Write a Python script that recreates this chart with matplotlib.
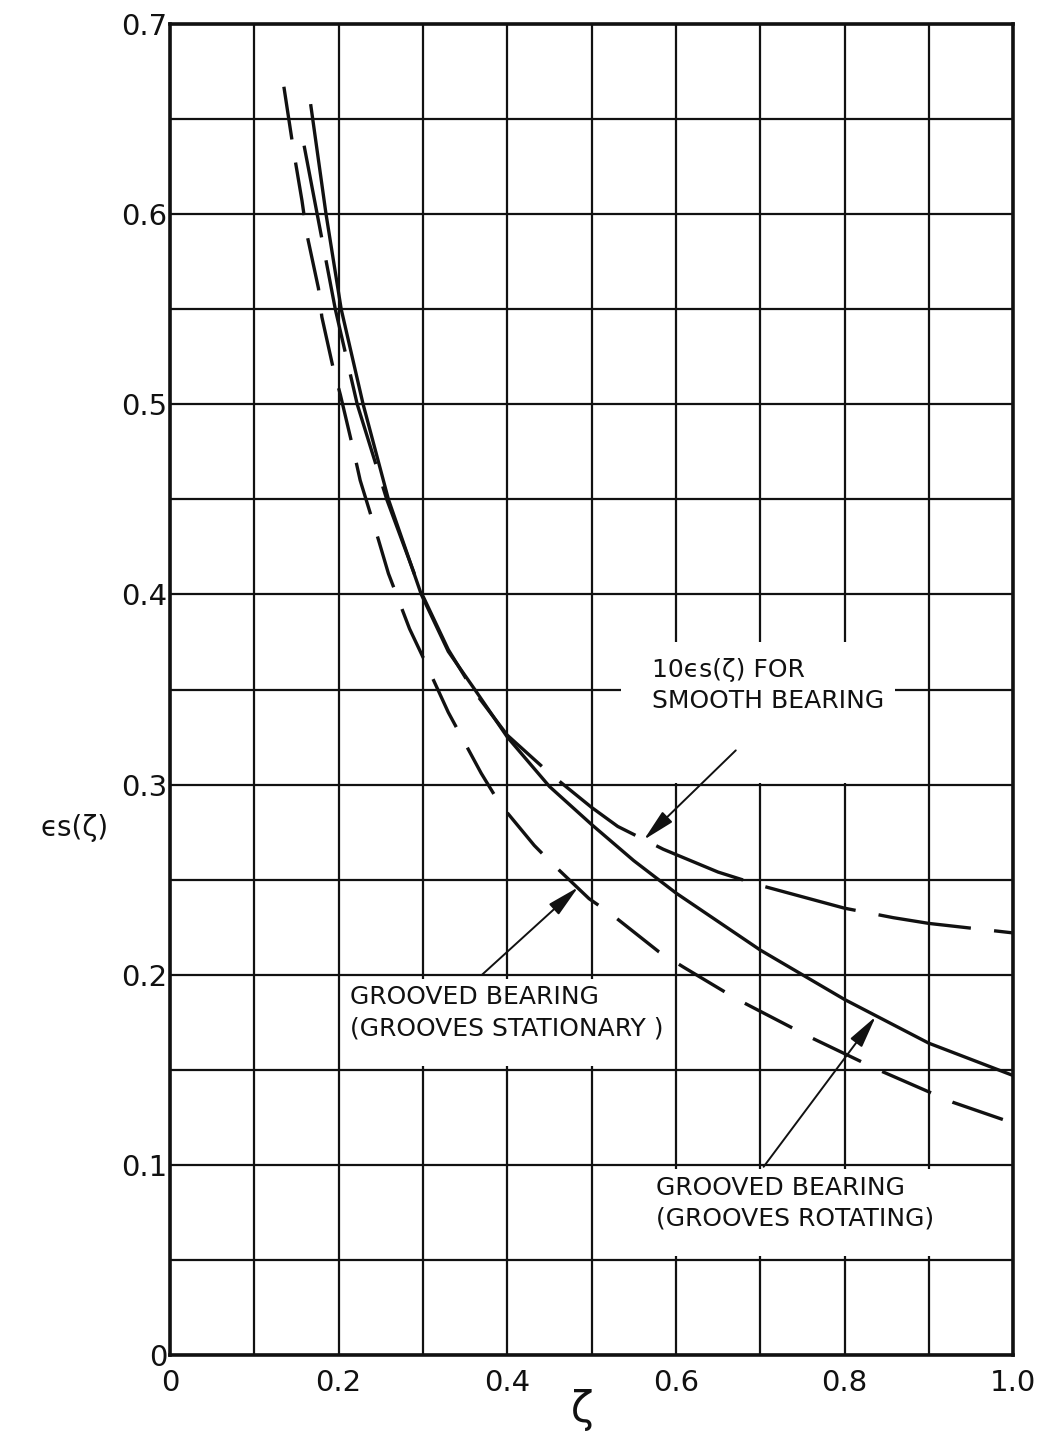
import matplotlib.pyplot as plt
from matplotlib.patches import Rectangle

# values
zeta_rot = [0.167, 0.185, 0.203, 0.229, 0.259, 0.298, 0.33, 0.363, 0.40, 0.45,
            0.50, 0.55, 0.60, 0.65, 0.70, 0.80, 0.90, 1.0]
es_rot = [0.657, 0.60, 0.55, 0.50, 0.45, 0.40, 0.37, 0.349, 0.325, 0.299,
          0.279, 0.26, 0.243, 0.228, 0.213, 0.187, 0.164, 0.147]

zeta_stat = [0.135, 0.147, 0.1565, 0.162, 0.176, 0.180, 0.193, 0.202, 0.218, 0.2255,
             0.247, 0.259, 0.284, 0.30, 0.33, 0.369, 0.391, 0.432, 0.452, 0.497,
             0.523, 0.58, 0.609, 0.673, 0.76, 0.84, 0.928, 1.0]
es_stat = [0.667, 0.632, 0.607, 0.59, 0.561, 0.546, 0.52, 0.505, 0.475, 0.46,
           0.429, 0.411, 0.382, 0.367, 0.338, 0.306, 0.29, 0.268, 0.259, 0.24,
           0.232, 0.212, 0.204, 0.187, 0.167, 0.15, 0.133, 0.122]

zeta_smooth = [0.159, 0.1745, 0.196, 0.222, 0.257, 0.298, 0.33, 0.359, 0.40, 0.45,
               0.50, 0.531, 0.585, 0.65, 0.70, 0.775, 0.80, 0.858, 0.90, 1.0]
es_smooth = [0.636, 0.60, 0.55, 0.50, 0.45, 0.401, 0.371, 0.35, 0.326, 0.306,
             0.288, 0.278, 0.266, 0.254, 0.247, 0.238, 0.235, 0.23, 0.227, 0.222]

x_ticks = [0, 0.2, 0.4, 0.6, 0.8, 1.0]
x_labels = ["0", "0.2", "0.4", "0.6", "0.8", "1.0"]
y_ticks = [0, 0.1, 0.2, 0.3, 0.4, 0.5, 0.6, 0.7]
y_labels = ["0", "0.1", "0.2", "0.3", "0.4", "0.5", "0.6", "0.7"]

INK = "#111111"
plt.rcParams["font.family"] = ["DejaVu Sans"]

fig = plt.figure(figsize=(10.37, 14.46), dpi=100)
ax = fig.add_axes([0.164, 0.0629, 0.813, 0.9205])

ax.set_xlim(0, 1.0)
ax.set_ylim(0, 0.7)
ax.set_xticks(x_ticks)
ax.set_xticklabels(x_labels)
ax.set_yticks(y_ticks)
ax.set_yticklabels(y_labels)
ax.set_xticks([i / 10 for i in range(11)], minor=True)
ax.set_yticks([i / 20 for i in range(15)], minor=True)
ax.tick_params(which="both", length=0, labelsize=21, colors=INK)
ax.tick_params(axis="x", pad=10)
ax.tick_params(axis="y", pad=2)
ax.grid(which="both", color=INK, linewidth=1.6)
ax.set_axisbelow(True)
for sp in ax.spines.values():
    sp.set_linewidth(2.6)
    sp.set_color(INK)
    sp.set_zorder(5)

# white patches behind the labels (grid is blanked there)
for (x0, y0, w, h) in [(0.535, 0.301, 0.325, 0.074),
                       (0.205, 0.152, 0.390, 0.046),
                       (0.505, 0.052, 0.490, 0.046)]:
    ax.add_patch(Rectangle((x0, y0), w, h, facecolor="white", edgecolor="none", zorder=1.5))

ax.plot(zeta_rot, es_rot, color=INK, lw=2.4, zorder=3)
ax.plot(zeta_stat, es_stat, color=INK, lw=2.4, dashes=(16, 7), zorder=3)
ax.plot(zeta_smooth, es_smooth, color=INK, lw=2.4, dashes=(28, 7), zorder=3)

arrow = dict(arrowstyle="-|>,head_length=0.9,head_width=0.2", color=INK, lw=1.4,
             mutation_scale=22, shrinkA=0, shrinkB=0)
lab = dict(fontsize=18, color=INK, ha="left", va="center", zorder=4, linespacing=1.35)

ax.text(0.572, 0.352, "10\u03f5s(\u03b6) FOR\nSMOOTH BEARING", **lab)
ax.annotate("", xy=(0.562, 0.271), xytext=(0.671, 0.318), arrowprops=arrow, zorder=4)

ax.text(0.213, 0.18, "GROOVED BEARING\n(GROOVES STATIONARY )", **lab)
ax.annotate("", xy=(0.484, 0.246), xytext=(0.37, 0.2), arrowprops=arrow, zorder=4)

ax.text(0.576, 0.08, "GROOVED BEARING\n(GROOVES ROTATING)", **lab)
ax.annotate("", xy=(0.837, 0.178), xytext=(0.704, 0.099), arrowprops=arrow, zorder=4)

fig.text(75 / 1037, 1 - 828 / 1446, "\u03f5s(\u03b6)", fontsize=20, color=INK,
         ha="center", va="center")
fig.text(582 / 1037, 1 - 1410 / 1446, "\u03b6", fontsize=30, color=INK,
         ha="center", va="center")

fig.savefig("out.png", dpi=100, facecolor="white")
